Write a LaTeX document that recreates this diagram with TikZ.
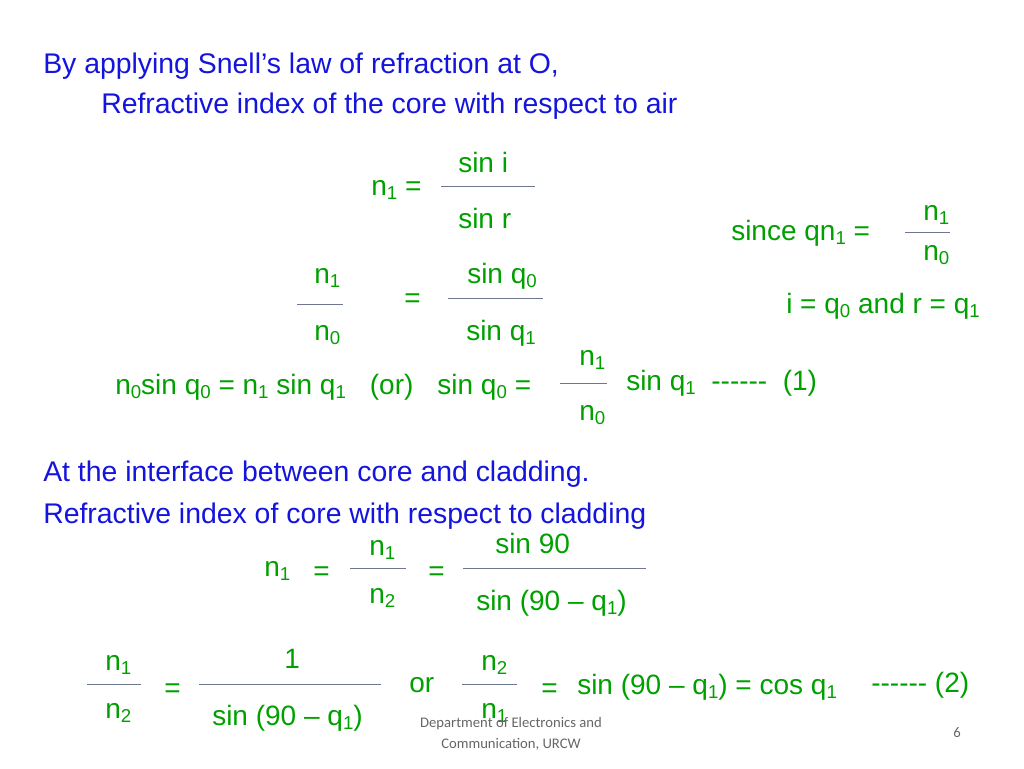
\documentclass[tikz,border=0pt]{standalone}
\usepackage{fontspec}
\setmainfont{Liberation Sans}
\newfontfamily\footfont{Carlito}
\definecolor{hdblue}{RGB}{20,20,220}
\definecolor{eqgreen}{RGB}{0,160,0}
\definecolor{rulegrey}{RGB}{110,120,140}
\newcommand{\lo}[1]{\raisebox{-0.3ex}{\fontsize{14}{14}\selectfont #1}}
\newcommand{\dashes}{{-}{-}{-}{-}{-}{-}}
\tikzset{
  head/.style={anchor=base west,inner sep=0pt,text=hdblue,font=\fontsize{21.3}{24}\selectfont},
  eq/.style={anchor=base west,inner sep=0pt,text=eqgreen,font=\fontsize{21}{24}\selectfont},
  bar/.style={rulegrey,line width=0.6pt},
  foot/.style={inner sep=0pt,text=black!60,font=\footfont\fontsize{11}{12}\selectfont}
}
\begin{document}
\begin{tikzpicture}[x=0.75pt,y=-0.75pt]
  \useasboundingbox (0,0) rectangle (1024,768);
  %% headings
  \node[head] (h1) at (43,73) {By applying Snell’s law of refraction at O,};
  \node[head] (h2) at (101,113) {Refractive index of the core with respect to air};
  %% n1 = sin i / sin r
  \node[eq] (n1a) at (371,195) {n\lo{1} =};
  \node[eq] (si) at (458,172) {sin i};
  \draw[bar] (441,186) -- (535,186);
  \node[eq] (sr) at (458,228) {sin r};
  %% since
  \node[eq] (since) at (731,240) {since qn\lo{1} =};
  \node[eq] (sn1) at (923,220) {n\lo{1}};
  \draw[bar] (905,232) -- (950,232);
  \node[eq] (sn0) at (923,260) {n\lo{0}};
  %% n1/n0 = sin q0 / sin q1
  \node[eq] (fn1) at (314,283) {n\lo{1}};
  \draw[bar] (297,304) -- (343,304);
  \node[eq] (fn0) at (314,340) {n\lo{0}};
  \node[eq] (eqa) at (404,307) {=};
  \node[eq] (sq0) at (467,283) {sin q\lo{0}};
  \draw[bar] (448,298) -- (543,298);
  \node[eq] (sq1) at (466,340) {sin q\lo{1}};
  \node[eq] (ir) at (786,313) {i = q\lo{0} and r = q\lo{1}};
  %% equation (1)
  \node[eq] (gn1) at (579,365) {n\lo{1}};
  \draw[bar] (560,383) -- (607,383);
  \node[eq] (gn0) at (579,420) {n\lo{0}};
  \node[eq] (snell) at (115,394) {n\lo{0}sin q\lo{0} = n\lo{1} sin q\lo{1}\hspace{18pt}(or)\hspace{18pt}sin q\lo{0} =};
  \node[eq] (one) at (626,390) {sin q\lo{1}\ \ \dashes\ \ (1)};
  %% cladding
  \node[head] (h3) at (43,481) {At the interface between core and cladding.};
  \node[head] (h4) at (43,523) {Refractive index of core with respect to cladding};
  \node[eq] (kn1) at (264,576) {n\lo{1}};
  \node[eq] (eqb) at (313,580) {=};
  \node[eq] (ln1) at (369,555) {n\lo{1}};
  \draw[bar] (350,568) -- (406,568);
  \node[eq] (ln2) at (369,603) {n\lo{2}};
  \node[eq] (eqc) at (428,580) {=};
  \node[eq] (s90) at (495,553) {sin 90};
  \draw[bar] (463,568) -- (646,568);
  \node[eq] (s90q) at (476,610) {sin (90 – q\lo{1})};
  %% equation (2)
  \node[eq] (mn1) at (105,670) {n\lo{1}};
  \draw[bar] (87,684) -- (141,684);
  \node[eq] (mn2) at (105,718) {n\lo{2}};
  \node[eq] (eqd) at (164,697) {=};
  \node[eq] (uno) at (284,668) {1};
  \draw[bar] (199,684) -- (381,684);
  \node[eq] (den) at (212,725) {sin (90 – q\lo{1})};
  \node[eq] (or) at (409,692) {or};
  \node[eq] (pn2) at (481,670) {n\lo{2}};
  \draw[bar] (462,684) -- (517,684);
  \node[eq] (pn1) at (481,718) {n\lo{1}};
  \node[eq] (eqe) at (541,697) {=};
  \node[eq] (cos) at (577,694) {sin (90 – q\lo{1}) = cos q\lo{1}};
  \node[eq] (two) at (871,692) {\dashes\ (2)};
  %% footer
  \node[foot,anchor=base] (dept) at (511,727) {Department of Electronics and};
  \node[foot,anchor=base] (urcw) at (511,748) {Communication, URCW};
  \node[foot,anchor=base] (page) at (957,737) {6};
\end{tikzpicture}
\end{document}
